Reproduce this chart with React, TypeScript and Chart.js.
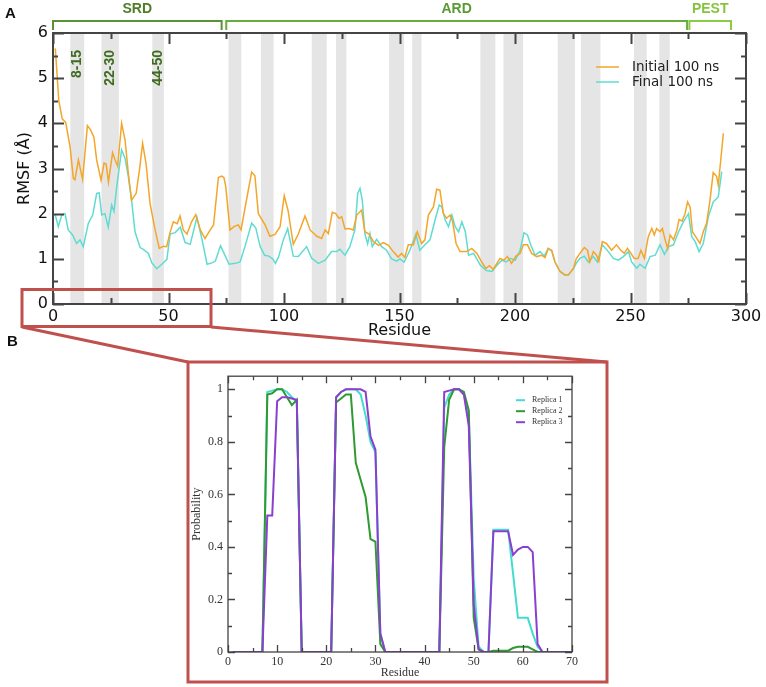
import React, { useEffect, useRef } from "react";
import { Chart, registerables } from "chart.js";

Chart.register(...registerables);

// ---------- Panel A data ----------
const residuesInitial = [
  1, 2, 2.5, 4, 5.5, 7.4, 8.8, 9.5, 11, 12.8, 14.9, 16.3, 17.7, 18.9, 20.8, 22.1, 23, 24, 25.8, 26.8,
  28, 29.7, 31.2, 32.6, 34, 36, 37.4, 38.8, 40.3, 42, 44.2, 46, 47.8, 49.2, 50.6, 52.1, 53.8, 55, 56.4, 58,
  60, 61.8, 63.8, 65.8, 67.2, 69.5, 71.6, 73, 74, 74.8, 76.6, 78.5, 80.2, 81.4, 83.1, 86, 87.4, 88.9, 91.8, 93.9,
  96.1, 98.3, 100.1, 101.8, 104, 106.2, 109.1, 111.3, 114.2, 116.3, 117.8, 119.2, 120.9, 122.4, 123.8, 125, 126.4, 128.1, 130, 131.5,
  133.6, 135, 136.8, 138.7, 140.9, 143, 145.2, 147.3, 149.4, 150.9, 152.3, 153.8, 156, 157.7, 159.6, 161, 162.5, 164.7, 166.1, 167.5,
  169, 170.4, 171.9, 173, 174.5, 176.2, 179.1, 181.3, 183.5, 185.6, 187.4, 188.9, 190.6, 193.5, 195.2, 196.7, 198.5, 200.4, 202.2, 203.6,
  205.4, 207.2, 209.4, 211.5, 213, 214.4, 215.9, 217.3, 219.5, 221.7, 223.1, 225.3, 226.5, 228.1, 230, 231.4, 232.4, 233.9, 235.3, 236.3,
  237.8, 239.6, 241.8, 243.9, 245.8, 247.3, 248.7, 250.2, 251.6, 253.3, 254.5, 256, 257.7, 259.2, 260.3, 261.3, 262.8, 263.8, 265, 266.1,
  267.2, 268.6, 270.1, 271, 272.4, 273.6, 274.7, 275.8, 276.8, 278.2, 280.1, 281.5, 282.9, 284.4, 285.8, 287.3, 288, 290.2,
];
const rmsfInitial = [
  5.66, 4.9, 4.5, 4.1, 4.02, 3.48, 2.78, 2.75, 3.19, 2.76, 3.95, 3.85, 3.7, 3.19, 2.74, 3.12, 3.1, 2.7, 3.35, 3.2,
  3.05, 4.0, 3.63, 2.9, 2.3, 2.45, 2.96, 3.56, 3.1, 2.23, 1.64, 1.23, 1.28, 1.27, 1.57, 1.82, 1.78, 1.95, 1.64, 1.55,
  1.82, 1.98, 1.64, 1.45, 1.57, 1.75, 2.8, 2.83, 2.8, 2.6, 1.64, 1.72, 1.75, 1.64, 2.12, 2.92, 2.84, 2.0, 1.75, 1.5,
  1.54, 1.71, 2.4, 2.06, 1.32, 1.55, 1.95, 1.64, 1.5, 1.45, 1.64, 1.56, 2.03, 2.0, 1.9, 1.93, 1.66, 1.67, 1.64, 1.97,
  2.08, 1.6, 1.55, 1.38, 1.3, 1.36, 1.3, 1.16, 1.04, 1.12, 1.03, 1.31, 1.31, 1.6, 1.34, 1.42, 1.97, 2.15, 2.54, 2.52,
  2.0, 1.9, 1.97, 1.82, 1.34, 1.16, 1.16, 1.23, 1.12, 0.93, 0.79, 0.85, 0.77, 1.01, 0.97, 1.05, 0.9, 1.06, 1.12, 1.31,
  1.31, 1.12, 1.05, 1.08, 1.03, 1.23, 1.19, 0.93, 0.72, 0.64, 0.64, 0.79, 1.0, 1.12, 1.25, 1.19, 0.93, 1.16, 1.08, 0.95,
  1.38, 1.34, 1.19, 1.31, 1.19, 1.12, 1.23, 1.12, 1.01, 1.01, 1.19, 1.01, 1.49, 1.67, 1.53, 1.67, 1.6, 1.67, 1.42, 1.23,
  1.53, 1.42, 1.64, 1.87, 1.84, 2.0, 2.26, 2.15, 1.6, 1.49, 1.34, 1.6, 1.78, 2.29, 2.91, 2.82, 2.63, 3.78,
];
const residuesFinal = [
  1, 2.3, 3.8, 5.2, 6.6, 8.5, 10.2, 11.7, 13.1, 15.3, 17.2, 18.9, 20, 21.1, 22.5, 23.9, 25.4, 26.4, 27.6, 29.7,
  31.2, 32.6, 34.1, 35.5, 37.7, 39.1, 41.3, 42.8, 44.9, 47.1, 49.3, 50.7, 52.9, 55.1, 57.2, 59.4, 62.3, 64.5, 66.7, 68.8,
  70.3, 72.5, 74.6, 76.2, 78.9, 81, 83.1, 86, 87.8, 89.7, 91.6, 93.4, 95.1, 96.3, 97.7, 99.7, 101.6, 104, 106.2, 109.8,
  112, 114.9, 117.8, 120.6, 122.8, 124.2, 126.4, 128.5, 130.7, 131.9, 132.9, 133.9, 135, 136.2, 137.2, 138.2, 140.1, 142.3, 144.4, 146.6,
  148.8, 150.2, 152, 154.5, 157.1, 158.8, 161, 163.2, 165.4, 167.2, 168.3, 169.8, 171.2, 172.7, 174.1, 175.6, 177, 178.5, 179.9, 182.1,
  185, 187.6, 190, 192.2, 194.4, 196.2, 198, 200.1, 202.2, 203.9, 205.4, 206.8, 208.7, 210.8, 212.6, 214.4, 215.9, 217.3, 219.5, 221.7,
  223.1, 225.3, 226.5, 228.1, 230, 231.7, 233.9, 235.7, 237.8, 240.4, 242.6, 244.8, 246.9, 249.1, 250.5, 252.7, 254.1, 256.3, 258.5, 260.7,
  262.8, 264.7, 266.4, 268.6, 270.8, 272.9, 275.1, 276.5, 278, 279.7, 281.5, 283.7, 285.8, 288, 289.5,
];
const rmsfFinal = [
  1.97, 1.71, 1.97, 2.0, 1.64, 1.53, 1.34, 1.42, 1.27, 1.79, 1.97, 2.45, 2.46, 1.97, 2.0, 1.7, 2.19, 2.05, 2.6, 3.41,
  3.22, 2.82, 2.26, 1.6, 1.25, 1.21, 1.12, 0.91, 0.78, 0.88, 0.99, 1.55, 1.58, 1.7, 1.36, 1.32, 1.92, 1.43, 0.88, 0.91,
  0.95, 1.29, 1.06, 0.88, 0.9, 0.93, 1.27, 1.79, 1.68, 1.27, 1.08, 1.06, 1.0, 0.9, 1.05, 1.42, 1.67, 1.06, 1.05, 1.27,
  1.01, 0.9, 0.97, 1.16, 1.16, 1.21, 1.08, 1.27, 1.64, 2.45, 2.56, 2.3, 1.56, 1.33, 1.56, 1.27, 1.43, 1.27, 1.19, 1.0,
  0.95, 1.0, 0.93, 1.19, 1.55, 1.19, 1.31, 1.42, 1.86, 2.19, 2.15, 1.86, 1.71, 1.97, 1.71, 1.6, 1.82, 1.6, 1.08, 1.12,
  0.86, 0.74, 0.72, 0.86, 0.97, 0.93, 1.01, 0.97, 1.19, 1.58, 1.53, 1.31, 1.08, 1.16, 1.06, 1.23, 1.17, 0.93, 0.72, 0.64,
  0.65, 0.78, 0.9, 1.01, 1.06, 0.93, 1.05, 0.93, 1.31, 1.16, 1.01, 0.97, 1.05, 1.16, 0.93, 0.79, 0.88, 0.79, 1.05, 1.08,
  1.31, 1.1, 1.27, 1.31, 1.6, 1.82, 2.0, 1.49, 1.38, 1.16, 1.34, 1.93, 2.26, 2.37, 2.93,
];
const helixBands = [
  [7.5, 13.5], [21, 28.5], [43, 48], [76, 81.5], [90, 95.5], [112, 118.5], [122.5, 127],
  [145.5, 152], [155.5, 159.5], [185, 191.5], [195, 203.5], [218.5, 226], [228.5, 237],
  [251.5, 257], [262.5, 267],
];
const bandLabels = ["8-15", "22-30", "44-50"];
const bandLabelResidues = [10.5, 24.75, 45.5];
const domainNames = ["SRD", "ARD", "PEST"];
const domainStarts = [0, 75, 275.5];
const domainEnds = [73, 274.5, 293.5];
const domainTextColors = ["#4f7d28", "#5a9a32", "#86c440"];
const domainLineColors = ["#5a9236", "#66ad3e", "#8ccb45"];
const xTicksTop = [0, 50, 100, 150, 200, 250, 300];
const yTicksTop = [0, 1, 2, 3, 4, 5, 6];
const seriesLabelsTop = ["Initial 100 ns", "Final 100 ns"];

// ---------- Panel B data ----------
const replicaResidues = [
  1, 2, 3, 4, 5, 6, 7, 8, 9, 10, 11, 12, 13, 14, 15, 16, 17, 18, 19, 20,
  21, 22, 23, 24, 25, 26, 27, 28, 29, 30, 31, 32, 33, 34, 35, 36, 37, 38, 39, 40,
  41, 42, 43, 44, 45, 46, 47, 48, 49, 50, 51, 52, 53, 54, 55, 56, 57, 58, 59, 60,
  61, 62, 63, 64, 65, 66, 67, 68, 69, 70,
];
const replica1 = [
  0, 0, 0, 0, 0, 0, 0,
  0.99, 0.995, 1.0, 1.0, 0.99, 0.97, 0.95, 0,
  0, 0, 0, 0, 0, 0,
  0.97, 0.99, 1.0, 1.0, 1.0, 0.98, 0.9, 0.8, 0.76, 0.07, 0,
  0, 0, 0, 0, 0, 0, 0, 0, 0, 0, 0,
  0.93, 0.98, 1.0, 1.0, 0.98, 0.9, 0.28, 0.02, 0,
  0,
  0.465, 0.465, 0.465, 0.465, 0.3, 0.13, 0.13, 0.13, 0.07, 0.02, 0,
  0, 0, 0, 0, 0, 0,
];
const replica2 = [
  0, 0, 0, 0, 0, 0, 0,
  0.98, 0.985, 1.0, 1.0, 0.97, 0.94, 0.96, 0,
  0, 0, 0, 0, 0, 0,
  0.95, 0.965, 0.98, 0.98, 0.72, 0.655, 0.59, 0.43, 0.42, 0.03, 0,
  0, 0, 0, 0, 0, 0, 0, 0, 0, 0, 0,
  0.78, 0.96, 1.0, 1.0, 0.99, 0.92, 0.13, 0.01, 0,
  0,
  0.005, 0.005, 0.005, 0.005, 0.015, 0.02, 0.02, 0.02, 0.01, 0, 0,
  0, 0, 0, 0, 0, 0,
];
const replica3 = [
  0, 0, 0, 0, 0, 0, 0,
  0.52, 0.52, 0.955, 0.97, 0.97, 0.965, 0.96, 0,
  0, 0, 0, 0, 0, 0,
  0.97, 0.99, 1.0, 1.0, 1.0, 1.0, 0.99, 0.82, 0.77, 0.07, 0,
  0, 0, 0, 0, 0, 0, 0, 0, 0, 0, 0,
  0.99, 0.995, 1.0, 1.0, 0.98, 0.86, 0.18, 0.01, 0,
  0,
  0.46, 0.46, 0.46, 0.46, 0.37, 0.39, 0.4, 0.4, 0.38, 0.03, 0,
  0, 0, 0, 0, 0, 0,
];
const replicaLabels = ["Replica 1", "Replica 2", "Replica 3"];
const replicaColors = ["#45dccf", "#2f9a2f", "#8a3fce"];
const xTicksBottom = [0, 10, 20, 30, 40, 50, 60, 70];
const yTicksBottom = [0, 0.2, 0.4, 0.6, 0.8, 1];

const SANS = "'DejaVu Sans', sans-serif";
const SERIF = "'Liberation Serif', 'Times New Roman', serif";
const BOLD_SANS = "'Liberation Sans', Arial, sans-serif";

type FrameOpts = {
  color: string; width: number;
  xMinor: number; xMajor: number; yMinor: number; yMajor: number;
  xMajorLen: number; xMinorLen: number; yMajorLen: number; yMinorLen: number;
};

function isMultiple(v: number, step: number) {
  const q = v / step;
  return Math.abs(q - Math.round(q)) < 1e-6;
}

function makeFramePlugin(o: FrameOpts) {
  return {
    id: "frameTicks",
    afterDraw(chart: any) {
      const { ctx, chartArea: a } = chart;
      const x = chart.scales.x;
      const y = chart.scales.y;
      ctx.save();
      ctx.strokeStyle = o.color;
      ctx.lineWidth = o.width;
      ctx.beginPath();
      const nx = Math.round((x.max - x.min) / o.xMinor);
      for (let i = 0; i <= nx; i++) {
        const v = x.min + i * o.xMinor;
        const px = Math.round(x.getPixelForValue(v)) + 0.5;
        const len = isMultiple(v, o.xMajor) ? o.xMajorLen : o.xMinorLen;
        ctx.moveTo(px, a.bottom);
        ctx.lineTo(px, a.bottom - len);
        ctx.moveTo(px, a.top);
        ctx.lineTo(px, a.top + len);
      }
      const ny = Math.floor((y.max - y.min) / o.yMinor + 1e-6);
      for (let i = 0; i <= ny; i++) {
        const v = y.min + i * o.yMinor;
        const py = Math.round(y.getPixelForValue(v)) + 0.5;
        const len = isMultiple(v, o.yMajor) ? o.yMajorLen : o.yMinorLen;
        ctx.moveTo(a.left, py);
        ctx.lineTo(a.left + len, py);
        ctx.moveTo(a.right, py);
        ctx.lineTo(a.right - len, py);
      }
      ctx.stroke();
      ctx.strokeRect(a.left, a.top, a.right - a.left, a.bottom - a.top);
      ctx.restore();
    },
  };
}

const topAnnotations = {
  id: "topAnnotations",
  beforeDatasetsDraw(chart: any) {
    const { ctx, chartArea: a } = chart;
    const x = chart.scales.x;
    ctx.save();
    ctx.fillStyle = "#e5e5e5";
    for (const [s, e] of helixBands) {
      const x1 = x.getPixelForValue(s);
      const x2 = x.getPixelForValue(e);
      ctx.fillRect(x1, a.top, x2 - x1, a.bottom - a.top);
    }
    // rotated band labels
    ctx.fillStyle = "#3f6b1f";
    ctx.font = `bold 14px ${BOLD_SANS}`;
    ctx.textAlign = "right";
    ctx.textBaseline = "middle";
    bandLabels.forEach((t, i) => {
      const px = x.getPixelForValue(bandLabelResidues[i]);
      ctx.save();
      ctx.translate(px, a.top + 17);
      ctx.rotate(-Math.PI / 2);
      ctx.fillText(t, 0, 0);
      ctx.restore();
    });
    ctx.restore();
  },
  afterDraw(chart: any) {
    const { ctx, chartArea: a } = chart;
    const x = chart.scales.x;
    ctx.save();
    // domain brackets
    domainNames.forEach((name, i) => {
      const x1 = x.getPixelForValue(domainStarts[i]);
      const x2 = x.getPixelForValue(domainEnds[i]);
      ctx.strokeStyle = domainLineColors[i];
      ctx.lineWidth = 2;
      ctx.beginPath();
      ctx.moveTo(x1, a.top - 3);
      ctx.lineTo(x1, a.top - 12);
      ctx.lineTo(x2, a.top - 12);
      ctx.lineTo(x2, a.top - 3);
      ctx.stroke();
      ctx.fillStyle = domainTextColors[i];
      ctx.font = `bold 14px ${BOLD_SANS}`;
      ctx.textAlign = "center";
      ctx.textBaseline = "middle";
      ctx.fillText(name, (x1 + x2) / 2, a.top - 24);
    });
    // legend
    ctx.font = `13.5px ${SANS}`;
    ctx.textAlign = "left";
    ctx.textBaseline = "middle";
    chart.data.datasets.forEach((ds: any, i: number) => {
      const yy = a.top + 34 + 15 * i;
      ctx.strokeStyle = ds.borderColor;
      ctx.lineWidth = 1.5;
      ctx.beginPath();
      ctx.moveTo(a.right - 150, yy);
      ctx.lineTo(a.right - 127, yy);
      ctx.stroke();
      ctx.fillStyle = "#222";
      ctx.fillText(ds.label, a.right - 114, yy + 0.5);
    });
    ctx.restore();
  },
};

const bottomLegend = {
  id: "bottomLegend",
  afterDraw(chart: any) {
    const { ctx, chartArea: a } = chart;
    ctx.save();
    ctx.font = `8px ${SERIF}`;
    ctx.textAlign = "left";
    ctx.textBaseline = "middle";
    chart.data.datasets.forEach((ds: any, i: number) => {
      const yy = a.top + 24 + 11 * i;
      ctx.strokeStyle = ds.borderColor;
      ctx.lineWidth = 2;
      ctx.beginPath();
      ctx.moveTo(a.right - 56, yy);
      ctx.lineTo(a.right - 47, yy);
      ctx.stroke();
      ctx.fillStyle = "#333";
      ctx.fillText(ds.label, a.right - 40, yy);
    });
    ctx.restore();
  },
};

export default function App() {
  const topRef = useRef<HTMLCanvasElement>(null);
  const botRef = useRef<HTMLCanvasElement>(null);

  useEffect(() => {
    const topChart = new Chart(topRef.current as HTMLCanvasElement, {
      type: "line",
      data: {
        datasets: [
          {
            label: seriesLabelsTop[0],
            data: residuesInitial.map((r, i) => ({ x: r, y: rmsfInitial[i] })),
            borderColor: "#f4a62a",
            borderWidth: 1.5,
            pointRadius: 0,
            tension: 0,
            fill: false,
          },
          {
            label: seriesLabelsTop[1],
            data: residuesFinal.map((r, i) => ({ x: r, y: rmsfFinal[i] })),
            borderColor: "#5fdcd2",
            borderWidth: 1.5,
            pointRadius: 0,
            tension: 0,
            fill: false,
          },
        ],
      },
      options: {
        animation: false,
        responsive: false,
        maintainAspectRatio: false,
        devicePixelRatio: 1,
        events: [],
        layout: { padding: { left: 0, top: 33, right: 20, bottom: 5 } },
        plugins: { legend: { display: false }, tooltip: { enabled: false } },
        scales: {
          x: {
            type: "linear",
            min: 0,
            max: 300,
            afterBuildTicks: (s: any) => { s.ticks = xTicksTop.map((v) => ({ value: v })); },
            afterFit: (s: any) => { s.height = 36; },
            grid: { display: false, drawTicks: false },
            border: { display: false },
            ticks: { font: { family: SANS, size: 16 }, color: "#111", padding: 3, maxRotation: 0, autoSkip: false },
            title: { display: true, text: "Residue", font: { family: SANS, size: 16 }, color: "#111", padding: { top: 0, bottom: 0 } },
          },
          y: {
            type: "linear",
            min: 0,
            max: 6,
            afterBuildTicks: (s: any) => { s.ticks = yTicksTop.map((v) => ({ value: v })); },
            afterFit: (s: any) => { s.width = 53; },
            grid: { display: false, drawTicks: false },
            border: { display: false },
            ticks: { font: { family: SANS, size: 16 }, color: "#111", padding: 5, autoSkip: false },
            title: { display: true, text: "RMSF (Å)", font: { family: SANS, size: 16 }, color: "#111", padding: { top: 15, bottom: 0 } },
          },
        },
      } as any,
      plugins: [
        topAnnotations,
        makeFramePlugin({
          color: "#444", width: 2,
          xMinor: 25, xMajor: 50, yMinor: 0.5, yMajor: 1,
          xMajorLen: 11, xMinorLen: 6, yMajorLen: 11, yMinorLen: 5,
        }),
      ],
    });

    const botChart = new Chart(botRef.current as HTMLCanvasElement, {
      type: "line",
      data: {
        datasets: [replica1, replica2, replica3].map((vals, k) => ({
          label: replicaLabels[k],
          data: replicaResidues.map((r, i) => ({ x: r, y: vals[i] })),
          borderColor: replicaColors[k],
          borderWidth: 2,
          pointRadius: 0,
          tension: 0,
          fill: false,
          order: 2 - k,
        })),
      },
      options: {
        animation: false,
        responsive: false,
        maintainAspectRatio: false,
        devicePixelRatio: 1,
        events: [],
        layout: { padding: { left: 0, top: 4, right: 33, bottom: 0 } },
        plugins: { legend: { display: false }, tooltip: { enabled: false } },
        scales: {
          x: {
            type: "linear",
            min: 0,
            max: 70,
            afterBuildTicks: (s: any) => { s.ticks = xTicksBottom.map((v) => ({ value: v })); },
            afterFit: (s: any) => { s.height = 30; },
            grid: { display: false, drawTicks: false },
            border: { display: false },
            ticks: { font: { family: SERIF, size: 12 }, color: "#333", padding: 3, maxRotation: 0, autoSkip: false },
            title: { display: true, text: "Residue", font: { family: SERIF, size: 12 }, color: "#333", padding: { top: 0, bottom: 2 } },
          },
          y: {
            type: "linear",
            min: 0,
            max: 1.05,
            afterBuildTicks: (s: any) => { s.ticks = yTicksBottom.map((v) => ({ value: v })); },
            afterFit: (s: any) => { s.width = 38; },
            grid: { display: false, drawTicks: false },
            border: { display: false },
            ticks: { font: { family: SERIF, size: 12 }, color: "#333", padding: 5, autoSkip: false, callback: (v: any) => String(v) },
            title: { display: true, text: "Probability", font: { family: SERIF, size: 12 }, color: "#333", padding: { top: 0, bottom: 0 } },
          },
        },
      } as any,
      plugins: [
        bottomLegend,
        makeFramePlugin({
          color: "#444", width: 1.3,
          xMinor: 5, xMajor: 10, yMinor: 0.1, yMajor: 0.2,
          xMajorLen: 7, xMinorLen: 4, yMajorLen: 7, yMinorLen: 4,
        }),
      ],
    });

    return () => {
      topChart.destroy();
      botChart.destroy();
    };
  }, []);

  const red = "#c0504d";
  return (
    <div style={{ position: "absolute", left: 0, top: 0, width: 766, height: 687, overflow: "hidden", background: "#fff" }}>
      <canvas ref={topRef} width={766} height={345} style={{ position: "absolute", left: 0, top: 0, width: 766, height: 345 }} />
      <canvas ref={botRef} width={415} height={318} style={{ position: "absolute", left: 190, top: 364, width: 415, height: 318 }} />
      <svg width={766} height={687} style={{ position: "absolute", left: 0, top: 0, pointerEvents: "none" }}>
        <rect x={22} y={289.5} width={189} height={37} fill="none" stroke={red} strokeWidth={3} />
        <line x1={22} y1={327} x2={188} y2={362} stroke={red} strokeWidth={3} />
        <line x1={211} y1={327} x2={607} y2={362} stroke={red} strokeWidth={3} />
        <rect x={188} y={362} width={419} height={320} fill="none" stroke={red} strokeWidth={3} />
      </svg>
      <div style={{ position: "absolute", left: 5, top: 5, fontFamily: BOLD_SANS, fontWeight: "bold", fontSize: 15, lineHeight: "15px", color: "#111" }}>A</div>
      <div style={{ position: "absolute", left: 7, top: 333, fontFamily: BOLD_SANS, fontWeight: "bold", fontSize: 15, lineHeight: "15px", color: "#111" }}>B</div>
    </div>
  );
}
